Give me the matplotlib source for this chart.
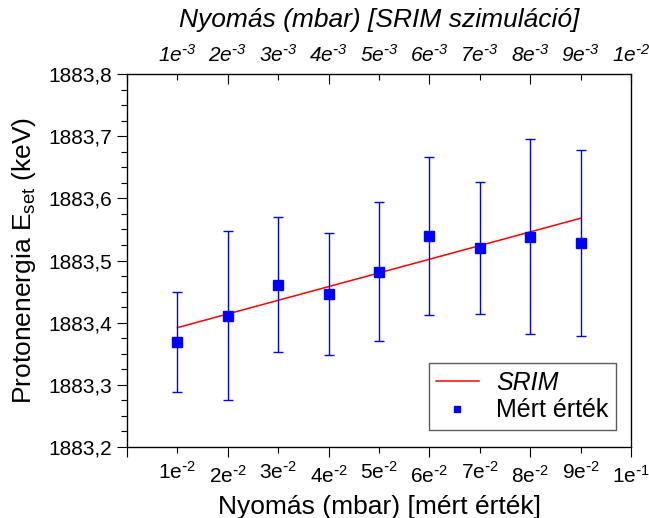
import matplotlib
matplotlib.use("Agg")
import matplotlib.pyplot as plt
from matplotlib.ticker import FixedLocator, FixedFormatter

plt.rcParams['font.family'] = ['Liberation Sans', 'DejaVu Sans']
plt.rcParams['mathtext.default'] = 'regular'

# pressure steps (position index on the axis)
pos = [1, 2, 3, 4, 5, 6, 7, 8, 9]
bottom_labels = [r'1e$^{\text{-}2}$', r'2e$^{\text{-}2}$', r'3e$^{\text{-}2}$',
                 r'4e$^{\text{-}2}$', r'5e$^{\text{-}2}$', r'6e$^{\text{-}2}$',
                 r'7e$^{\text{-}2}$', r'8e$^{\text{-}2}$', r'9e$^{\text{-}2}$',
                 r'1e$^{\text{-}1}$']
top_labels = [r'1e$^{\text{-}3}$', r'2e$^{\text{-}3}$', r'3e$^{\text{-}3}$',
              r'4e$^{\text{-}3}$', r'5e$^{\text{-}3}$', r'6e$^{\text{-}3}$',
              r'7e$^{\text{-}3}$', r'8e$^{\text{-}3}$', r'9e$^{\text{-}3}$',
              r'1e$^{\text{-}2}$']

# measured proton energy (keV) and its uncertainty
measured = [1883.369, 1883.411, 1883.461, 1883.446, 1883.482,
            1883.539, 1883.520, 1883.538, 1883.528]
measured_err = [0.080, 0.136, 0.109, 0.098, 0.112,
                0.127, 0.106, 0.157, 0.149]

# SRIM simulation
srim = [1883.392, 1883.414, 1883.436, 1883.458, 1883.480,
        1883.502, 1883.524, 1883.546, 1883.568]

fig = plt.figure(figsize=(6.49, 5.18), dpi=100)
ax = fig.add_axes([0.1957, 0.1371, 0.7766, 0.7200])

line_srim, = ax.plot(pos, srim, color='red', lw=1.1, label='SRIM', zorder=3)
ax.errorbar(pos, measured, yerr=measured_err, fmt='s', color='blue',
            ms=7, elinewidth=1.0, capsize=3.5, capthick=1.0, zorder=4)
# marker-only handle for the legend
pts, = ax.plot([], [], 's', color='blue', ms=4.5, label='Mért érték')

ax.set_xlim(0, 10)
ax.set_ylim(1883.2, 1883.8)

tick_font = 15

# bottom axis: long ticks on even steps, short ticks on odd steps
ax.xaxis.set_major_locator(FixedLocator([0, 2, 4, 6, 8, 10]))
ax.xaxis.set_minor_locator(FixedLocator([1, 3, 5, 7, 9]))
ax.xaxis.set_major_formatter(FixedFormatter(['', bottom_labels[1], bottom_labels[3],
                                             bottom_labels[5], bottom_labels[7],
                                             bottom_labels[9]]))
ax.xaxis.set_minor_formatter(FixedFormatter(bottom_labels[0::2]))
ax.tick_params(axis='x', which='both', direction='out', labelsize=tick_font,
               width=0.8, pad=6)
ax.tick_params(axis='x', which='major', length=7)
ax.tick_params(axis='x', which='minor', length=4)

yt = [1883.2, 1883.3, 1883.4, 1883.5, 1883.6, 1883.7, 1883.8]
ax.yaxis.set_major_locator(FixedLocator(yt))
ax.yaxis.set_major_formatter(FixedFormatter([f'{v:.1f}'.replace('.', ',') for v in yt]))
ax.yaxis.set_minor_locator(FixedLocator([1883.2 + 0.025 * i for i in range(25)]))
ax.tick_params(axis='y', which='both', direction='out', labelsize=tick_font, width=0.8)
ax.tick_params(axis='y', which='major', length=7)
ax.tick_params(axis='y', which='minor', length=4)

for s in ax.spines.values():
    s.set_linewidth(0.9)

ax.set_xlabel('Nyomás (mbar) [mért érték]', fontsize=19, labelpad=6)
ax.set_ylabel('Protonenergia E$_{set}$ (keV)', fontsize=19, labelpad=8)

# top axis for the simulated pressure
ax2 = ax.twiny()
ax2.set_xlim(0, 10)
ax2.xaxis.set_major_locator(FixedLocator([0, 2, 4, 6, 8, 10]))
ax2.xaxis.set_minor_locator(FixedLocator([1, 3, 5, 7, 9]))
ax2.xaxis.set_major_formatter(FixedFormatter(['', top_labels[1], top_labels[3],
                                              top_labels[5], top_labels[7],
                                              top_labels[9]]))
ax2.xaxis.set_minor_formatter(FixedFormatter(top_labels[0::2]))
ax2.tick_params(axis='x', which='both', direction='in', labelsize=tick_font,
                width=0.8, pad=6)
ax2.tick_params(axis='x', which='major', length=7)
ax2.tick_params(axis='x', which='minor', length=4)
for lab in ax2.get_xticklabels(which='both'):
    lab.set_fontstyle('italic')
ax2.set_xlabel('Nyomás (mbar) [SRIM szimuláció]', fontsize=19, style='italic',
               labelpad=12)

leg = ax.legend(handles=[line_srim, pts], loc='lower right',
                bbox_to_anchor=(0.97, 0.046), borderaxespad=0,
                fontsize=18, frameon=True, fancybox=False, edgecolor='#333333',
                handlelength=1.7, borderpad=0.3,
                labelspacing=0.15, handletextpad=0.7)
leg.get_frame().set_linewidth(1.0)
leg.get_texts()[0].set_fontstyle('italic')

fig.savefig('out.png', dpi=100)
